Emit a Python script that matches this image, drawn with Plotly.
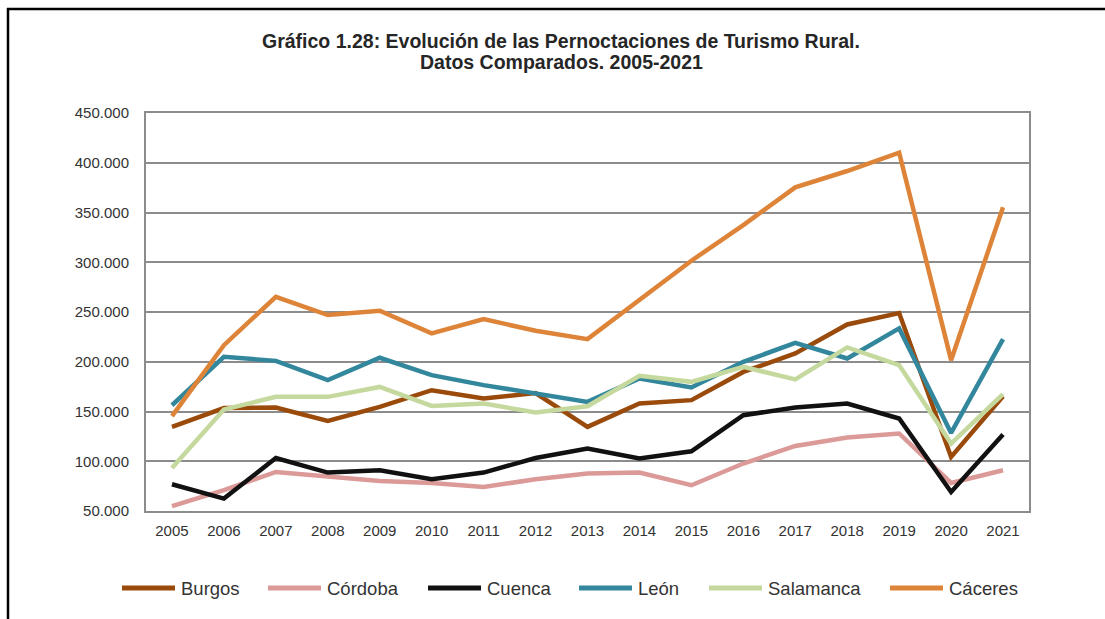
import plotly.graph_objects as go

years = [str(y) for y in range(2005, 2022)]

burgos    = [134500, 153500, 154000, 140500, 154600, 171400, 163000, 168500, 134500, 158000, 161400, 189800, 208300, 237500, 249000, 104300, 165400]
cordoba   = [55000, 71000, 89200, 84200, 80200, 78200, 74100, 81900, 87600, 88600, 75900, 97700, 115400, 123800, 127900, 78200, 91000]
cuenca    = [76900, 62500, 103300, 88600, 91000, 81900, 88600, 103300, 112800, 102700, 110000, 146300, 154000, 158000, 143000, 69100, 126900]
leon      = [156300, 205000, 200900, 181500, 204000, 186500, 176500, 168500, 159700, 183200, 174100, 199900, 219000, 203300, 233500, 128500, 222700]
salamanca = [93300, 152000, 164700, 164700, 174700, 155600, 158000, 149000, 155300, 185800, 179800, 194900, 182200, 214400, 196600, 117800, 167400]
caceres   = [145300, 216700, 265300, 246900, 251200, 228500, 242900, 231100, 222700, 262000, 301500, 337400, 375300, 391700, 410100, 201600, 355200]

names  = ["Burgos", "Córdoba", "Cuenca", "León", "Salamanca", "Cáceres"]
values = [burgos, cordoba, cuenca, leon, salamanca, caceres]
colors = ["#9A4A0A", "#DB9A98", "#111111", "#33879C", "#C5D99E", "#DE8439"]

title1 = "Gráfico 1.28: Evolución de las Pernoctaciones de Turismo Rural."
title2 = "Datos Comparados. 2005-2021"

W, H = 1105, 619
L, R, T, B = 146, 76, 113, 108
pw, ph = W - L - R, H - T - B

def px_x(p):
    return (p - L) / pw

def px_y(p):
    return 1 - (p - T) / ph

fig = go.Figure()
for name, vals, col in zip(names, values, colors):
    fig.add_trace(go.Scatter(x=years, y=vals, name=name, mode="lines",
                             line=dict(color=col, width=4.5), showlegend=False))

fig.update_layout(
    width=W, height=H,
    margin=dict(l=L, r=R, t=T, b=B),
    paper_bgcolor="white", plot_bgcolor="white",
    separators=",.",
    font=dict(family="Liberation Sans, Arial, sans-serif", size=15, color="#404040"),
    xaxis=dict(type="category", range=[-0.5, len(years) - 0.5], showgrid=False,
               showline=True, linecolor="#8C8C8C",
               linewidth=2, mirror=True, ticks="", ticklabelstandoff=5,
               tickfont=dict(size=15, color="#333333")),
    yaxis=dict(range=[50000, 450000], dtick=50000, tickformat=",d", showgrid=True,
               gridcolor="#8C8C8C", gridwidth=2, showline=True, linecolor="#8C8C8C",
               linewidth=2, mirror=True, ticks="", ticklabelstandoff=12,
               zeroline=False, tickfont=dict(size=15, color="#333333")),
    showlegend=False,
)

tfont = dict(family="Liberation Sans, Arial, sans-serif", size=19.5, color="#262626")
fig.add_annotation(text="<b>" + title1 + "</b>", xref="paper", yref="paper",
                   x=px_x(561), y=px_y(41), xanchor="center", yanchor="middle",
                   showarrow=False, font=tfont)
fig.add_annotation(text="<b>" + title2 + "</b>", xref="paper", yref="paper",
                   x=px_x(561), y=px_y(62), xanchor="center", yanchor="middle",
                   showarrow=False, font=tfont)

# legend drawn as line samples + labels
leg_line_x = [120, 266, 426, 577, 707, 888]
leg_y = 588
for nm, col, lx in zip(names, colors, leg_line_x):
    fig.add_shape(type="line", xref="paper", yref="paper",
                  x0=px_x(lx + 2), x1=px_x(lx + 55), y0=px_y(leg_y), y1=px_y(leg_y),
                  line=dict(color=col, width=5))
    fig.add_annotation(text=nm, xref="paper", yref="paper", x=px_x(lx + 59),
                       y=px_y(leg_y), xanchor="left", yanchor="middle", showarrow=False,
                       font=dict(size=18.5, color="#333333"))

# outer frame lines (top and left) like the source document
fig.add_shape(type="line", xref="paper", yref="paper", x0=px_x(7), x1=px_x(1105),
              y0=px_y(9), y1=px_y(9), line=dict(color="black", width=2.5))
fig.add_shape(type="line", xref="paper", yref="paper", x0=px_x(8), x1=px_x(8),
              y0=px_y(8), y1=px_y(619), line=dict(color="black", width=2.5))

fig.write_html("out.html", config={"displayModeBar": False},
               post_script="document.body.style.margin='0';document.body.style.overflow='hidden';")
